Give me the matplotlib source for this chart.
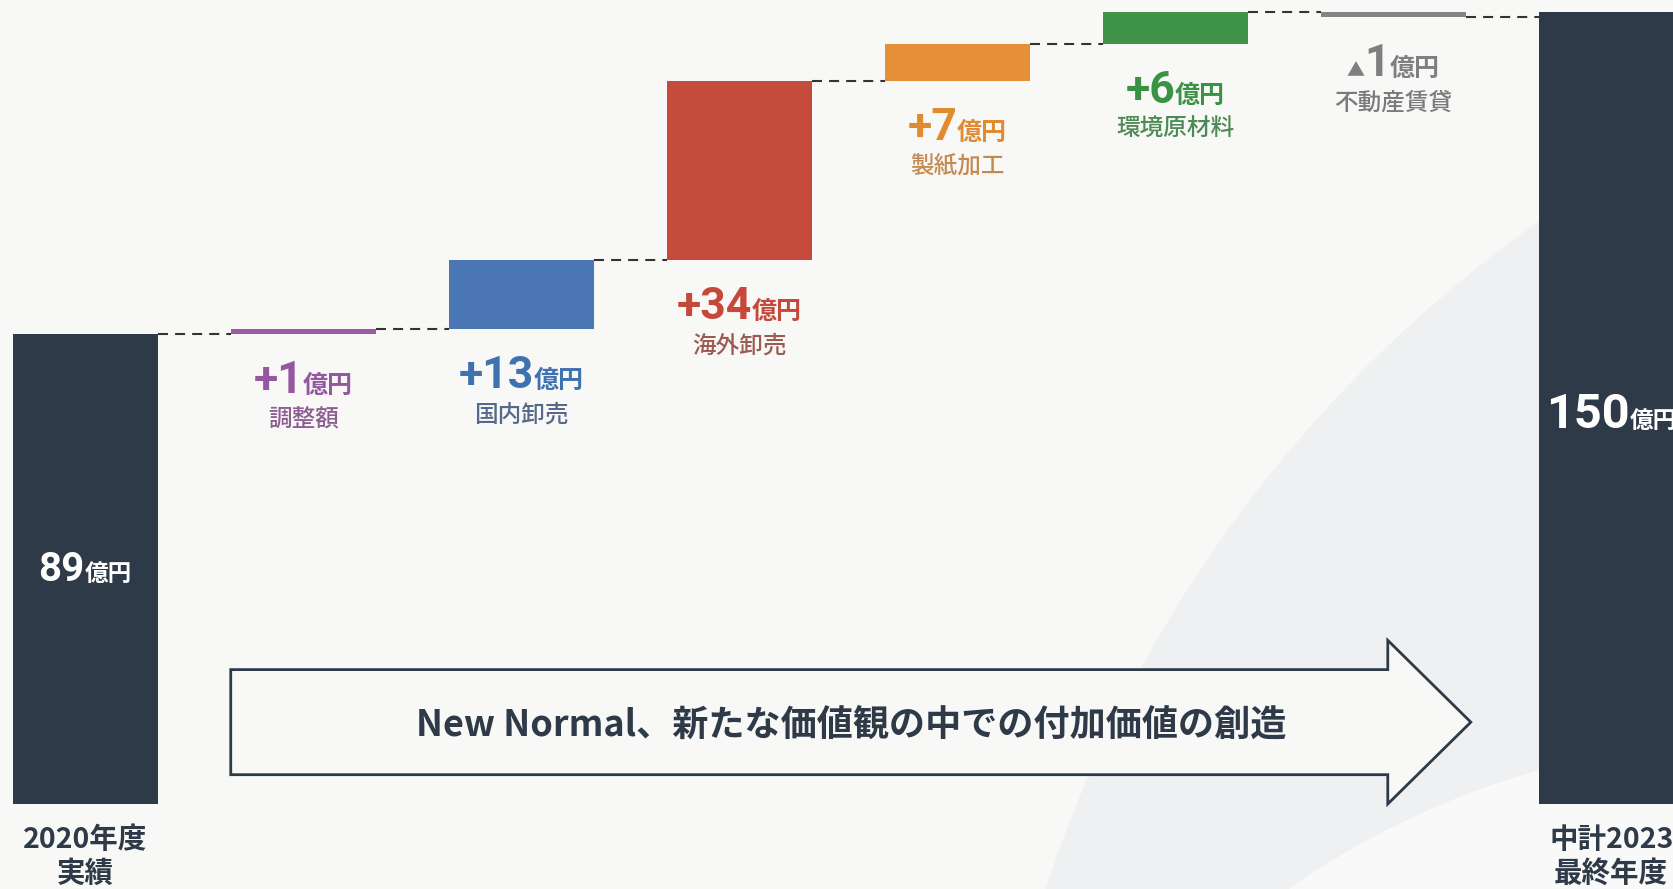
import numpy as np
import matplotlib
matplotlib.use("Agg")
import matplotlib.pyplot as plt
from matplotlib.patches import FancyArrow, Circle

plt.rcParams['font.family'] = ['Noto Sans CJK JP', 'DejaVu Sans']

# data
base_value = 89
final_value = 150
base_label = ["2020年度", "実績"]
final_label = ["中計2023", "最終年度"]
step_values = [1, 13, 34, 7, 6, -1]
step_names = ["調整額", "国内卸売", "海外卸売", "製紙加工", "環境原材料", "不動産賃貸"]
step_signs = ["+", "+", "+", "+", "+", "▲"]
unit = "億円"
arrow_text = "New Normal、新たな価値観の中での付加価値の創造"

# colours
navy = "#2E3A47"
bg = "#F8F8F7"
bar_colors = ["#9A5BA5", "#4A77B4", "#C54B3C", "#E58F3A", "#3F9449", "#858585"]
num_colors = ["#9457A0", "#3F72B0", "#C5483A", "#E08B30", "#3A9245", "#7F7F7F"]
name_colors = ["#8C5E92", "#56698A", "#9C5B52", "#C58A4E", "#4D8B55", "#7A7A7A"]

NUMFONT = ['Roboto', 'Noto Sans CJK JP']
CJK = ['Noto Sans CJK JP', 'DejaVu Sans']

H = 889
fig = plt.figure(figsize=(16.74, 8.89), dpi=100, facecolor=bg)
ax = fig.add_axes([0, 0, 1, 1])
ax.set_xlim(-0.391, 7.288)
ax.set_ylim(-16.1, 152.27)
ax.axis('off')

# faint background swoosh (display coords, origin bottom left)
ax.add_patch(Circle((2300, H - 1300), 1320, transform=None, facecolor="#EFF0F1",
                    edgecolor="none", zorder=0))
ax.add_patch(Circle((1760, H - 1560), 820, transform=None, facecolor="#F9F9F9",
                    edgecolor="none", zorder=0))

w = 0.665
n = len(step_values)
xs = np.arange(n + 2)

# cumulative levels
levels = [base_value]
for v in step_values:
    levels.append(levels[-1] + v)

# base and final bars
ax.bar(xs[0], base_value, width=w, color=navy, zorder=2)
ax.bar(xs[-1], final_value, width=w, color=navy, zorder=2)

# steps
for i, v in enumerate(step_values):
    ax.bar(xs[i + 1], v, bottom=levels[i], width=w, color=bar_colors[i], zorder=2)

# connectors
for i in range(n + 1):
    y = levels[i]
    ax.plot([xs[i] + w / 2, xs[i + 1] - w / 2], [y, y], color="#333333", lw=1.5,
            linestyle=(0, (4.8, 3.4)), zorder=1)

renderer = fig.canvas.get_renderer()


def multi_label(x, y, parts, dy, color):
    # parts: (text, size, family) laid out left to right, centred on x
    texts = []
    for s, size, fam in parts:
        t = ax.annotate(s, (x, y), xytext=(0, dy), textcoords='offset pixels',
                        ha='left', va='baseline', fontsize=size, family=fam,
                        fontweight='bold', color=color, zorder=5)
        texts.append(t)
    widths = [t.get_window_extent(renderer).width for t in texts]
    left = -sum(widths) / 2
    for t, wd in zip(texts, widths):
        t.xyann = (left, dy)
        left += wd


# step labels
for i, v in enumerate(step_values):
    low = min(levels[i], levels[i + 1])
    x = xs[i + 1]
    if step_signs[i] == "▲":
        parts = [("▲", 13, CJK), (str(abs(v)), 32, NUMFONT), (unit, 18, CJK)]
    else:
        parts = [(step_signs[i] + str(abs(v)), 32, NUMFONT), (unit, 18, CJK)]
    multi_label(x, low, parts, -59, num_colors[i])
    ax.annotate(step_names[i], (x, low), xytext=(0, -86), textcoords='offset pixels',
                ha='center', va='center', fontsize=17, fontweight='medium',
                color=name_colors[i], zorder=5)

# totals inside the navy bars
multi_label(xs[0], base_value * 0.475, [(str(base_value), 29, NUMFONT), (unit, 17, CJK)], 0, "white")
multi_label(xs[-1], final_value * 0.475, [(str(final_value), 35, NUMFONT), (unit, 17, CJK)], 0, "white")

# bottom labels
for x, lab in [(xs[0], base_label), (xs[-1], final_label)]:
    ax.annotate(lab[0], (x, 0), xytext=(0, -36), textcoords='offset pixels',
                ha='center', va='center', fontsize=20.5, fontweight='bold', color=navy)
    ax.annotate(lab[1], (x, 0), xytext=(0, -70), textcoords='offset pixels',
                ha='center', va='center', fontsize=20.5, fontweight='bold', color=navy)

# big arrow along the bottom
a_left = xs[1] - w / 2
a_tip = 6.356
arr = FancyArrow(a_left, 15.5, a_tip - a_left, 0, width=19.9, head_width=31, head_length=0.381,
                 length_includes_head=True, facecolor=bg, edgecolor=navy, lw=2, zorder=3)
arr.set_alpha(None)
ax.add_patch(arr)
ax.text((a_left + a_tip) / 2, 15.0, arrow_text, ha='center', va='center', fontsize=26,
        fontweight='bold', color=navy, zorder=4)

fig.savefig("out.png", dpi=100, facecolor=bg)
